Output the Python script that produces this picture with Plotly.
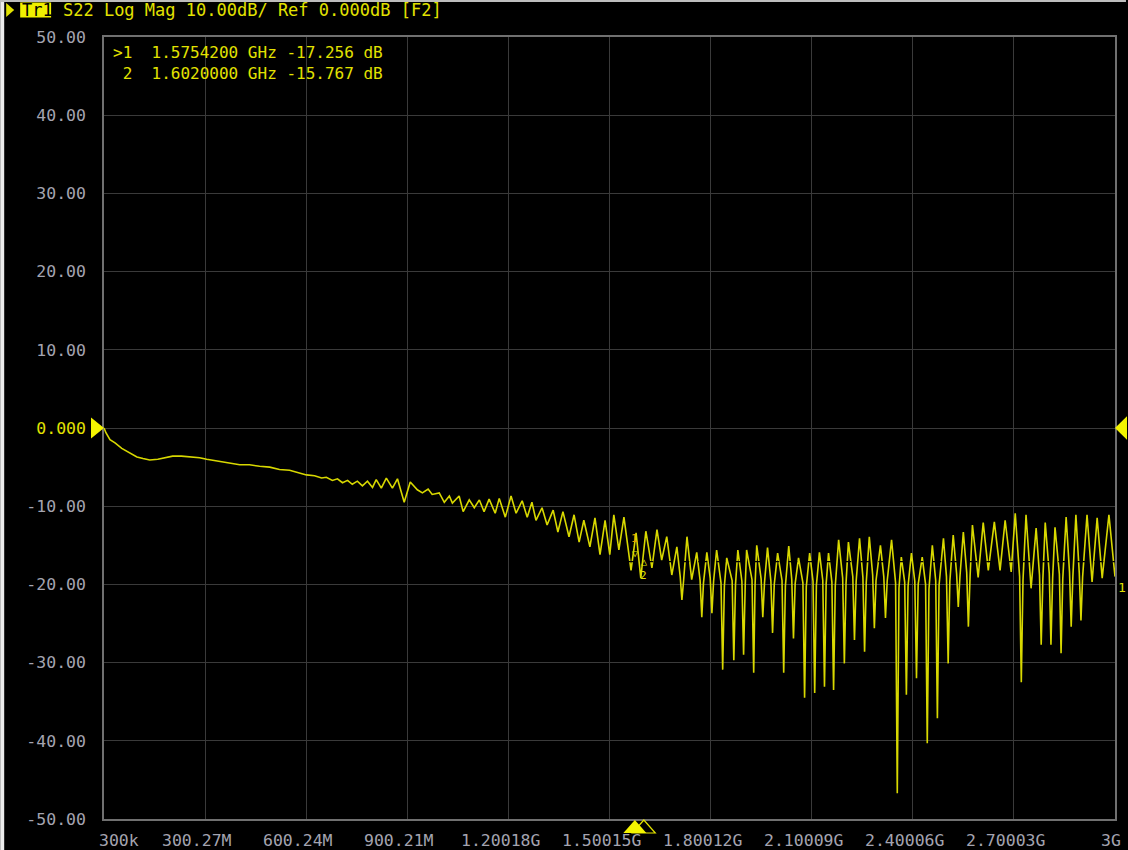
import plotly.graph_objects as go

# ---------------- data ----------------
freq_mhz = [
    0.3, 6, 18, 33, 53, 77, 98, 116, 136, 160, 184, 204, 230, 255, 284, 305, 335, 365, 403,
    432, 462, 492, 521, 551, 580, 601, 625, 646, 660, 678, 693, 708, 723, 737, 752, 767, 782,
    797, 808, 823, 838, 856, 871, 891, 909, 930, 945, 962, 974, 995, 1010, 1025, 1034, 1054,
    1066, 1084, 1099, 1114, 1128, 1143, 1161, 1173, 1191, 1208, 1223, 1241, 1256, 1270, 1282,
    1300, 1315, 1333, 1347, 1362, 1380, 1395, 1410, 1424, 1442, 1457, 1472, 1487, 1501, 1513,
    1528, 1543, 1564, 1579, 1593, 1608, 1626, 1641, 1655, 1670, 1685, 1700,
    1710, 1715, 1720, 1730, 1744, 1759,
    1769, 1774, 1779, 1789, 1799, 1804, 1809, 1818, 1831, 1836, 1841, 1848,
    1864, 1869, 1874, 1881, 1893, 1898, 1903, 1907, 1923, 1928, 1932, 1937,
    1950, 1955, 1960, 1969, 1979, 1984, 1989, 1999, 2012, 2017, 2022, 2032,
    2041, 2046, 2051, 2061, 2074, 2079, 2084, 2094, 2104, 2109, 2114, 2123,
    2133, 2138, 2143, 2150, 2160, 2165, 2170, 2180, 2192, 2197, 2202, 2209,
    2222, 2227, 2232, 2242, 2252, 2257, 2262, 2271, 2281, 2286, 2291, 2304,
    2314, 2319, 2324, 2337, 2349, 2354, 2359, 2366, 2376, 2381, 2386, 2396,
    2406, 2411, 2416, 2428, 2438, 2443, 2448, 2458, 2468, 2473, 2478, 2491,
    2500, 2505, 2510, 2520, 2530, 2535, 2540, 2550, 2560, 2565, 2570, 2577,
    2594, 2609, 2624, 2642, 2659, 2674, 2692, 2704, 2717, 2722, 2727, 2736,
    2751, 2766, 2776, 2781, 2786, 2793, 2805, 2810, 2815, 2822, 2835, 2840, 2845, 2855,
    2865, 2870, 2875, 2884, 2894, 2899, 2904, 2917, 2932, 2947, 2962, 2982, 3000,
]
s22_db = [
    0.0, -0.6, -1.5, -1.9, -2.6, -3.2, -3.7, -3.9, -4.1, -4.0, -3.8, -3.6, -3.6, -3.7, -3.8,
    -4.0, -4.2, -4.4, -4.7,
    -4.7, -4.9, -5.0, -5.3, -5.4, -5.8, -6.0, -6.1, -6.4, -6.3, -6.7, -6.5, -7.0, -6.7, -7.2,
    -6.8, -7.4, -6.8, -7.6, -6.6, -7.7, -6.4, -7.7, -6.5, -9.5, -6.9, -7.9, -8.3, -7.8, -8.5,
    -8.3, -9.5, -8.7, -9.6, -8.7, -10.7, -9.2, -10.2, -9.2, -10.7, -9.1, -10.9, -9.0, -11.4,
    -8.7, -10.9, -9.3, -11.4, -9.5, -11.8, -10.2, -12.4, -10.5, -13.3, -10.7, -13.9, -11.1,
    -14.6, -11.8, -15.2, -11.5, -16.2, -11.8, -16.2, -11.1, -15.6, -11.4,
    -18.2, -13.4, -19.2, -13.2, -17.9, -13.0, -16.9, -13.9, -18.8, -15.2,
    -19.0, -22.0, -19.5, -13.9, -19.4, -15.9,
    -19.5, -24.2, -19.8, -15.9, -19.2, -23.7, -19.6, -15.6, -19.8, -30.9, -20.2, -16.6,
    -19.5, -29.7, -20.0, -15.6, -19.6, -29.0, -19.9, -15.6, -19.4, -31.3, -20.1, -15.0,
    -19.3, -24.2, -19.8, -15.3, -19.6, -26.2, -20.0, -16.0, -19.5, -31.3, -20.2, -15.1,
    -19.4, -26.9, -19.9, -16.6, -19.8, -34.5, -20.3, -16.0, -19.6, -33.9, -20.1, -15.9,
    -19.5, -33.1, -19.9, -16.0, -19.7, -33.5, -20.2, -14.3, -19.2, -30.1, -19.8, -14.6,
    -19.0, -27.1, -19.6, -14.1, -19.1, -28.6, -19.7, -13.9, -18.8, -25.6, -19.5, -15.0,
    -19.0, -24.3, -19.6, -14.3, -19.8, -46.7, -20.5, -16.5, -19.7, -34.1, -20.2, -16.0,
    -19.6, -32.0, -20.0, -16.5, -20.0, -40.3, -20.6, -15.0, -19.5, -37.1, -20.1, -14.1,
    -19.0, -30.1, -19.6, -13.7, -18.6, -22.9, -19.0, -13.3, -18.5, -25.4, -19.0, -12.4,
    -19.1, -12.1, -18.2, -12.0, -18.2, -11.8, -18.4, -10.9, -19.0, -32.5, -19.5, -11.1,
    -20.5, -12.8, -18.8, -27.7, -19.3, -12.1, -18.6, -27.7, -19.2, -12.7, -18.7, -28.8, -19.3, -11.4,
    -18.4, -25.4, -19.0, -11.1, -18.5, -24.6, -19.0, -11.1, -19.7, -11.5, -19.2, -11.1, -19.0,
]

x_tick_vals = [0.3, 300.27, 600.24, 900.21, 1200.18, 1500.15, 1800.12, 2100.09, 2400.06, 2700.03, 3000]
x_tick_text = ["300k", "300.27M", "600.24M", "900.21M", "1.20018G", "1.50015G",
               "1.80012G", "2.10009G", "2.40006G", "2.70003G", "3G"]
y_tick_vals = [50, 40, 30, 20, 10, 0, -10, -20, -30, -40, -50]
y_tick_text = ["50.00", "40.00", "30.00", "20.00", "10.00", "0.000",
               "-10.00", "-20.00", "-30.00", "-40.00", "-50.00"]

marker_ids = ["1", "2"]
marker_freq_mhz = [1575.42, 1602.0]
marker_db = [-17.256, -15.767]

ref_level_db = 0.0
search_line_db = -17.1
search_line_start_mhz = 1550

title_trace = "Tr1"
title_rest = " S22 Log Mag 10.00dB/ Ref 0.000dB [F2]"

# ---------------- style ----------------
YEL = "#e2e200"
TRACE = "#d8d800"
GRAY_TXT = "#a4a4b0"
GRID = "#3a3a3a"
FRAME = "#707070"
MONO = "DejaVu Sans Mono"
FS = 16.5

W, H = 1128, 850
ML, MR, MT, MB = 104, 11, 37, 31
PW = W - ML - MR
PH = H - MT - MB


def px_x(px):
    return (px - ML) / PW


def px_y(py):
    return 1 - (py - MT) / PH


fig = go.Figure()
fig.add_trace(go.Scatter(
    x=freq_mhz, y=s22_db, mode="lines",
    line=dict(color=TRACE, width=1.6), hoverinfo="skip", showlegend=False,
))

ytext = [f"<span style='color:{YEL}'>{t}</span>" if v == ref_level_db else t
         for v, t in zip(y_tick_vals, y_tick_text)]

fig.update_layout(
    width=W, height=H, autosize=False,
    margin=dict(l=ML, r=MR, t=MT, b=MB, pad=0),
    paper_bgcolor="black", plot_bgcolor="black",
    showlegend=False,
    font=dict(family=MONO, size=FS, color=GRAY_TXT),
    xaxis=dict(range=[x_tick_vals[0], x_tick_vals[-1]], tickvals=x_tick_vals,
               showticklabels=False,
               showgrid=True, gridcolor=GRID, gridwidth=1.3, zeroline=False,
               showline=True, linecolor=FRAME, linewidth=1.5, mirror=True, ticks=""),
    yaxis=dict(range=[-50, 50], tickvals=y_tick_vals, ticktext=ytext,
               showgrid=True, gridcolor=GRID, gridwidth=1.3, zeroline=False,
               showline=True, linecolor=FRAME, linewidth=1.5, mirror=True,
               ticks="", ticklabelstandoff=13, tickfont=dict(family=MONO, size=FS, color=GRAY_TXT)),
)

shapes = []
# screenshot border strips
shapes.append(dict(type="rect", xref="paper", yref="paper",
                   x0=px_x(0), x1=px_x(4), y0=px_y(H), y1=px_y(0),
                   fillcolor="#ececec", line=dict(width=0), layer="above"))
shapes.append(dict(type="rect", xref="paper", yref="paper",
                   x0=px_x(0), x1=px_x(W), y0=px_y(2), y1=px_y(0),
                   fillcolor="#bdbdbd", line=dict(width=0), layer="above"))
# Tr1 highlight box
shapes.append(dict(type="rect", xref="paper", yref="paper",
                   x0=px_x(20), x1=px_x(51), y0=px_y(17.5), y1=px_y(2.5),
                   fillcolor="#f0f000", line=dict(width=0), layer="above"))
# small indicator triangle left of Tr1
shapes.append(dict(type="path", xref="paper", yref="paper",
                   path=f"M {px_x(6)},{px_y(3)} L {px_x(6)},{px_y(17)} L {px_x(14)},{px_y(10)} Z",
                   fillcolor=YEL, line=dict(width=0), layer="above"))
# reference level triangles
hx = 13 / PW
shapes.append(dict(type="path", xref="paper", yref="y",
                   path=f"M {-hx},{ref_level_db + 1.35} L {-hx},{ref_level_db - 1.35} L 0,{ref_level_db} Z",
                   fillcolor="#f4f400", line=dict(width=0), layer="above"))
shapes.append(dict(type="path", xref="paper", yref="y",
                   path=f"M 1.0,{ref_level_db} L {1 + 12 / PW},{ref_level_db + 1.5} L {1 + 12 / PW},{ref_level_db - 1.5} Z",
                   fillcolor="#f4f400", line=dict(width=0), layer="above"))
# marker search line
shapes.append(dict(type="line", xref="x", yref="y",
                   x0=search_line_start_mhz, x1=freq_mhz[-1], y0=search_line_db, y1=search_line_db,
                   line=dict(color="black", width=1.2, dash="dash"), layer="above"))
# bottom marker triangles (outline for marker 2 behind filled marker 1)
mhz_per_px = (x_tick_vals[-1] - x_tick_vals[0]) / PW
half = 11.5 * mhz_per_px
ya, yb = px_y(MT + PH + 1), px_y(MT + PH + 14)
f2 = marker_freq_mhz[1]
shapes.append(dict(type="path", xref="x", yref="paper",
                   path=f"M {f2},{ya} L {f2 - half},{yb} L {f2 + half},{yb} Z",
                   fillcolor="rgba(0,0,0,0)", line=dict(color=YEL, width=1.2), layer="above"))
f1 = marker_freq_mhz[0]
shapes.append(dict(type="path", xref="x", yref="paper",
                   path=f"M {f1},{ya} L {f1 - half},{yb} L {f1 + half},{yb} Z",
                   fillcolor="#f4f400", line=dict(width=0), layer="above"))
fig.update_layout(shapes=shapes)

ann = []
NB = "\u00a0"
ann.append(dict(xref="paper", yref="paper", x=px_x(20), y=px_y(10), xanchor="left", yanchor="middle",
                showarrow=False, font=dict(family=MONO, size=17, color=YEL),
                text=f"<span style='color:black'>{title_trace}</span>{title_rest.replace(' ', NB)}"))
# marker readout block (one text, two lines)
lines = []
for i, (mid, fm, dbv) in enumerate(zip(marker_ids, marker_freq_mhz, marker_db)):
    prefix = ">" if i == 0 else NB
    lines.append(f"{prefix}{mid}{NB}{NB}{fm / 1000:.7f}{NB}GHz{NB}{dbv:.3f}{NB}dB")
ann.append(dict(xref="paper", yref="paper", x=px_x(111), y=px_y(41),
                xanchor="left", yanchor="top", showarrow=False, align="left",
                font=dict(family=MONO, size=16, color=YEL), text="<br>".join(lines)))
# x tick labels (placed like the analyzer does: slightly left of each grid line)
for i, (v, t) in enumerate(zip(x_tick_vals, x_tick_text)):
    if i == 0:
        anchor, shift = "left", -7
    elif i == len(x_tick_vals) - 1:
        anchor, shift = "right", 8
    else:
        anchor, shift = "center", -8
    ann.append(dict(x=v, xref="x", y=px_y(840), yref="paper", text=t, showarrow=False,
                    xanchor=anchor, yanchor="middle", xshift=shift,
                    font=dict(family=MONO, size=FS, color=GRAY_TXT)))
# on-trace marker glyphs
ann.append(dict(x=marker_freq_mhz[0], y=marker_db[0], xref="x", yref="y", showarrow=False,
                text="▽", yshift=9, font=dict(family=MONO, size=10, color=YEL)))
ann.append(dict(x=marker_freq_mhz[0], y=marker_db[0], xref="x", yref="y", showarrow=False,
                text=marker_ids[0], yshift=24, font=dict(family=MONO, size=11, color="#e0a000")))
ann.append(dict(x=marker_freq_mhz[1], y=marker_db[1], xref="x", yref="y", showarrow=False,
                text="△", yshift=-10, font=dict(family=MONO, size=10, color=YEL)))
ann.append(dict(x=marker_freq_mhz[1], y=marker_db[1], xref="x", yref="y", showarrow=False,
                text=marker_ids[1], yshift=-24, font=dict(family=MONO, size=11, color=YEL)))
# trace end indicator
ann.append(dict(x=freq_mhz[-1], y=s22_db[-1], xref="x", yref="y", showarrow=False,
                xanchor="left", yanchor="top", xshift=1, yshift=-1, text="1",
                font=dict(family=MONO, size=13, color=YEL)))
fig.update_layout(annotations=ann)

assert len(freq_mhz) == len(s22_db)
fig.write_html("out.html",
               config=dict(displayModeBar=False, responsive=False),
               post_script="document.body.style.margin='0';document.body.style.overflow='hidden';")
